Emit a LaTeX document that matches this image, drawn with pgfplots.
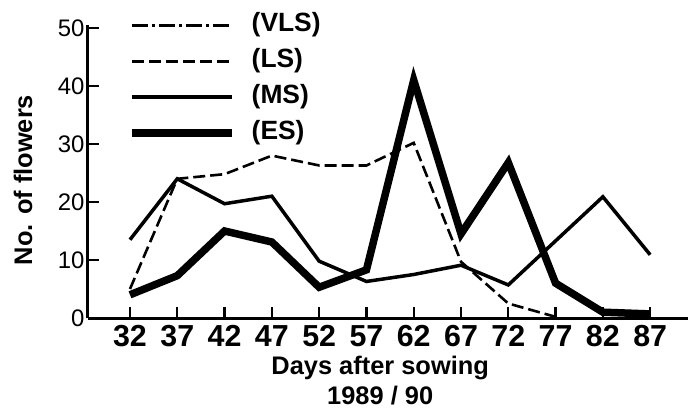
\documentclass[border=0pt]{standalone}
\usepackage{fontspec}
\setmainfont{Liberation Sans}
\usepackage{pgfplots}
\pgfplotsset{compat=1.18}
\begin{document}
\begin{tikzpicture}
\useasboundingbox (-88bp,-91bp) rectangle (600bp,318bp);
\begin{axis}[
  at={(0,0)}, anchor=south west,
  scale only axis, width=600bp, height=292.9bp,
  xmin=-0.888, xmax=11.8, ymin=0, ymax=50.5,
  axis x line=bottom, axis y line=left,
  axis line style={-, line width=3bp, black},
  xtick={0,...,11},
  xticklabels={32,37,42,47,52,57,62,67,72,77,82,87},
  ytick={0,10,20,30,40,50},
  tick align=inside, major tick length=11bp,
  every tick/.style={black, line width=2.2bp},
  /pgf/number format/assume math mode=true,
  xticklabel style={font=\bfseries\fontsize{30.5}{30.5}\selectfont, yshift=-4bp},
  yticklabel style={font=\fontsize{24}{24}\selectfont},
  xlabel={Days after sowing\\1989 / 90},
  xlabel style={at={(axis description cs:0.487,-0.1297)}, anchor=north, inner sep=0pt, align=center, font=\bfseries\fontsize{25.5}{30}\selectfont},
  ylabel={No. of flowers},
  ylabel style={at={(axis description cs:-0.1083,0.471)}, anchor=center, inner sep=0pt, font=\bfseries\fontsize{25.5}{25.5}\selectfont},
  legend style={at={(axis description cs:0.0667,1.0413)}, anchor=north west, draw=none, fill=none,
    inner sep=0pt, row sep=12bp, column sep=16bp,
    nodes={inner sep=0pt, text height=18bp, text depth=6bp},
    font=\bfseries\fontsize{26.5}{26.5}\selectfont},
  legend cell align=left,
  legend image code/.code={\draw[#1] (0bp,0bp) -- (100bp,0bp);},
  no markers, clip=false,
]
\addlegendimage{black, line width=3bp, dash pattern=on 16bp off 4bp on 3bp off 4bp}
\addlegendentry{(VLS)}
% LS
\addplot[black, line width=2.6bp, dash pattern=on 12bp off 5bp] coordinates {
(0,5) (1,24) (2,24.8) (3,28) (4,26.3) (5,26.3) (6,30.2) (7,9.7) (8,2.5) (9,0.2)};
\addlegendentry{(LS)}
% MS
\addplot[black, line width=3.5bp] coordinates {
(0,13.5) (1,24) (2,19.7) (3,21) (4,9.8) (5,6.3) (6,7.5) (7,9.1) (8,5.7) (9,13.3) (10,20.9) (11,10.9)};
\addlegendentry{(MS)}
% ES
\addplot[black, line width=7.5bp, line join=miter] coordinates {
(0,4) (1,7.3) (2,15) (3,13.1) (4,5.3) (5,8.3) (6,41) (7,14.5) (8,26.8) (9,6) (10,1) (11,0.7)};
\addlegendentry{(ES)}
\end{axis}
\end{tikzpicture}
\end{document}
